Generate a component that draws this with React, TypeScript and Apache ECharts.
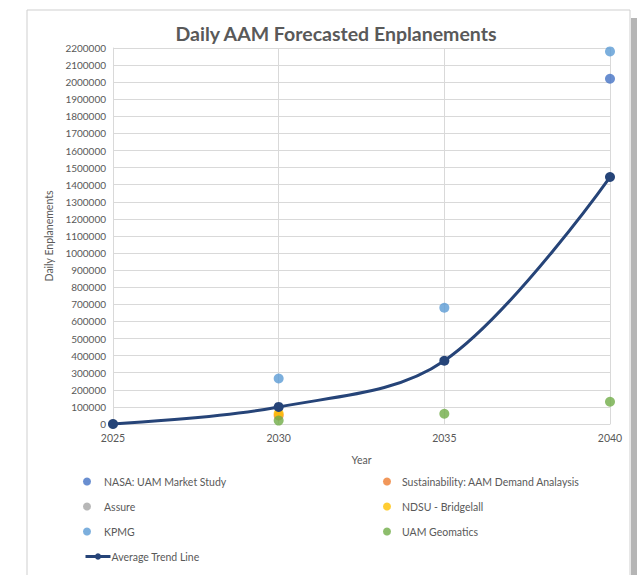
import React, { useEffect, useRef } from "react";
import * as echarts from "echarts";

const years = [2025, 2030, 2035, 2040];
const titleText = "Daily AAM Forecasted Enplanements";
const yAxisName = "Daily Enplanements";
const xAxisName = "Year";

const nasa: [number, number][] = [[2040, 2020000]];
const sustainability: [number, number][] = [[2030, 50000]];
const assure: [number, number][] = [[2025, 0]];
const ndsu: [number, number][] = [[2030, 62000]];
const kpmg: [number, number][] = [[2030, 266000], [2035, 680000], [2040, 2180000]];
const geomatics: [number, number][] = [[2030, 20000], [2035, 60000], [2040, 130000]];
const averageTrend = [0, 100000, 370000, 1445000];

const FONT = "Lato, 'Open Sans', sans-serif";
const TXT = "#595959";

export default function App() {
  const ref = useRef<HTMLDivElement>(null);
  useEffect(() => {
    if (!ref.current) return;
    const chart = echarts.init(ref.current, undefined, { renderer: "svg" });
    const scatter = (name: string, data: [number, number][], color: string) => ({
      name,
      type: "scatter",
      data,
      symbolSize: 10,
      itemStyle: { color },
      z: 3,
    });
    const legendText = { color: TXT, fontSize: 10.5, fontFamily: FONT };
    chart.setOption({
      animation: false,
      backgroundColor: "#ffffff",
      textStyle: { fontFamily: FONT },
      title: {
        text: titleText,
        left: 331,
        textAlign: "center",
        top: 18,
        textStyle: { color: TXT, fontSize: 19.5, fontWeight: "bold", fontFamily: FONT },
      },
      graphic: [
        {
          type: "rect",
          shape: { x: 27, y: 10, width: 603, height: 575 },
          style: { fill: "none", stroke: "#cfcfcf", lineWidth: 1 },
          z: -1,
        },
        {
          type: "rect",
          shape: { x: 631, y: 18, width: 6, height: 560 },
          style: { fill: "#b5b5b5" },
          z: -1,
        },
      ],
      grid: { left: 113, right: 33, top: 48, bottom: 151 },
      xAxis: {
        type: "value",
        min: years[0],
        max: years[years.length - 1],
        interval: 5,
        name: xAxisName,
        nameLocation: "middle",
        nameGap: 30,
        nameTextStyle: { color: TXT, fontSize: 10.5, fontFamily: FONT },
        axisLine: { show: true, lineStyle: { color: "#d9d9d9" } },
        axisTick: { show: false },
        axisLabel: {
          color: TXT,
          fontSize: 10.5,
          fontFamily: FONT,
          margin: 8,
          formatter: (v: number) => String(v),
        },
        splitLine: { show: true, lineStyle: { color: "#d9d9d9" } },
      },
      yAxis: {
        type: "value",
        min: 0,
        max: 2200000,
        interval: 100000,
        name: yAxisName,
        nameLocation: "middle",
        nameGap: 56,
        nameTextStyle: { color: TXT, fontSize: 10.5, fontFamily: FONT },
        axisLine: { show: true, lineStyle: { color: "#d9d9d9" } },
        axisTick: { show: false },
        axisLabel: {
          color: TXT,
          fontSize: 10,
          fontFamily: FONT,
          margin: 7,
          formatter: (v: number) => String(v),
        },
        splitLine: { show: true, lineStyle: { color: "#d9d9d9" } },
      },
      legend: [
        {
          orient: "vertical",
          left: 78,
          top: 471,
          itemGap: 14,
          itemWidth: 24,
          itemHeight: 8,
          textStyle: legendText,
          data: [
            { name: "NASA: UAM Market Study", icon: "circle" },
            { name: "Assure", icon: "circle" },
            { name: "KPMG", icon: "circle" },
          ],
        },
        {
          orient: "vertical",
          left: 378,
          top: 471,
          itemGap: 14,
          itemWidth: 20,
          itemHeight: 8,
          textStyle: legendText,
          data: [
            { name: "Sustainability: AAM Demand Analaysis", icon: "circle" },
            { name: "NDSU - Bridgelall", icon: "circle" },
            { name: "UAM Geomatics", icon: "circle" },
          ],
        },
        {
          left: 79,
          top: 546,
          itemWidth: 25,
          itemHeight: 8,
          itemGap: 0,
          textStyle: { ...legendText, padding: [0, 0, 0, -4] },
          lineStyle: { width: 3 },
          data: [{ name: "Average Trend Line" }],
        },
      ],
      series: [
        scatter("NASA: UAM Market Study", nasa, "#4472C4"),
        scatter("Sustainability: AAM Demand Analaysis", sustainability, "#ED7D31"),
        scatter("Assure", assure, "#A5A5A5"),
        scatter("NDSU - Bridgelall", ndsu, "#FFC000"),
        scatter("KPMG", kpmg, "#5B9BD5"),
        scatter("UAM Geomatics", geomatics, "#70AD47"),
        {
          name: "Average Trend Line",
          type: "line",
          data: years.map((y, i) => [y, averageTrend[i]]),
          smooth: 0.35,
          symbol: "circle",
          symbolSize: 10,
          showSymbol: true,
          lineStyle: { color: "#264478", width: 3 },
          itemStyle: { color: "#264478" },
          z: 5,
        },
      ],
    });
    return () => chart.dispose();
  }, []);
  return (
    <div
      ref={ref}
      style={{ position: "absolute", left: 0, top: 0, width: 643, height: 575 }}
    />
  );
}
